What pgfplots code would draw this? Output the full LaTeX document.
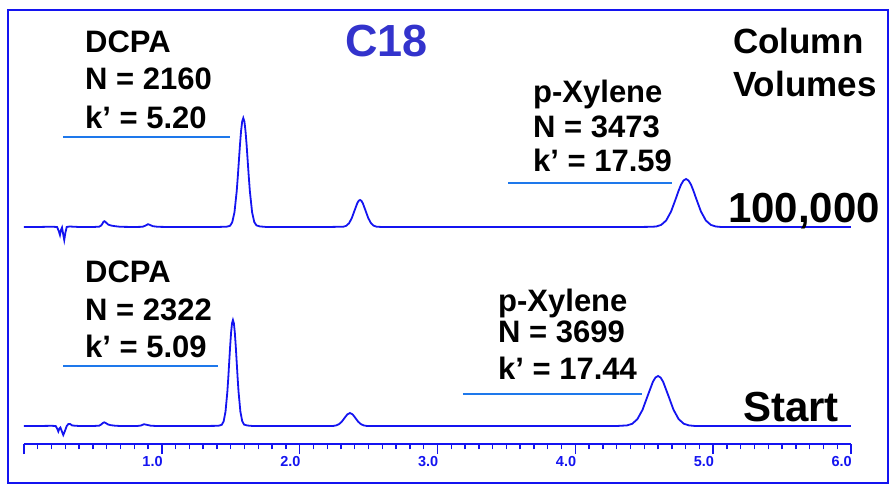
\documentclass[border=0pt]{standalone}
\usepackage{pgfplots}
\pgfplotsset{compat=1.18}
\usepackage{fontspec}
\setmainfont{Liberation Sans}
\definecolor{tblue}{RGB}{20,20,240}
\definecolor{lblue}{RGB}{30,120,235}
\definecolor{cblue}{RGB}{51,51,204}
\begin{document}
\begin{tikzpicture}
\begin{axis}[
  scale only axis, width=827pt, height=434pt,
  xmin=0, xmax=6, ymin=0, ymax=434,
  axis x line=bottom, axis y line=none,
  axis line style={-, draw=tblue, line width=1.7pt},
  xtick={0,1,2,3,4,5,6}, xticklabels={,1.0,2.0,3.0,4.0,5.0,6.0},
  ytick=\empty,
  minor x tick num=9,
  tick align=outside,
  major tick length=10pt, minor tick length=5.5pt,
  every tick/.style={tblue, line width=1.4pt},
  xticklabel style={font=\fontsize{14.5}{15}\selectfont\bfseries, text=tblue, anchor=north east, inner sep=0pt, xshift=1pt, yshift=-2pt},
  clip=false,
]
% invisible bounding box and frame
\path (axis cs:-0.1741,-41) rectangle (axis cs:6.3193,444);
\draw[tblue, line width=1.5pt] (axis cs:-0.116,-39) rectangle (axis cs:6.269,434);

% upper chromatogram (100,000 column volumes)
\addplot[tblue, line width=1.8pt] coordinates {
(0,217) (0.10,217) (0.20,217.3) (0.24,217) (0.252,213) (0.261,209) (0.268,214) (0.276,216.5) (0.284,210) (0.292,204) (0.300,211) (0.31,217) (0.33,217.5) (0.40,217) (0.50,217)
(0.545,217.3) (0.56,218.5) (0.57,220.5) (0.577,222.3) (0.585,222.8) (0.595,221.5) (0.61,219.5) (0.63,218.5) (0.66,217.8) (0.70,217.2) (0.80,217)
(0.86,217.2) (0.88,218.3) (0.90,219.8) (0.915,219) (0.935,217.8) (0.97,217.2) (1.05,217) (1.20,217) (1.40,217) (1.47,217.3)
(1.495,218.2) (1.511,221.8) (1.527,231.7) (1.543,252.4) (1.551,266.9) (1.559,283.1) (1.567,299.3) (1.575,313.2) (1.583,322.6) (1.591,326)
(1.599,322.6) (1.607,313.2) (1.615,299.3) (1.623,283.1) (1.631,266.9) (1.639,252.4) (1.655,231.7) (1.671,221.8) (1.687,218.6) (1.71,217.6) (1.76,217)
(2.0,217) (2.2,217) (2.318,217.3) (2.338,218.2) (2.358,220.7) (2.378,225.8) (2.398,233.4) (2.418,240.8) (2.428,243.2) (2.438,244) (2.448,243.2) (2.458,240.8)
(2.478,233.4) (2.498,225.8) (2.518,220.7) (2.538,218.2) (2.558,217.3) (2.60,217) (3.0,217) (3.5,217) (4.0,217) (4.45,217) (4.55,217.2)
(4.587,217.5) (4.623,219.1) (4.659,223.5) (4.695,232.6) (4.731,246.1) (4.749,253.2) (4.767,259.4) (4.785,263.5) (4.803,265) (4.821,263.5) (4.839,259.4) (4.857,253.2)
(4.875,246.1) (4.911,232.6) (4.947,223.5) (4.983,219.1) (5.019,217.5) (5.06,217) (5.5,217) (6.0,217)
};

% lower chromatogram (start)
\addplot[tblue, line width=1.8pt] coordinates {
(0,18) (0.10,18) (0.20,18.2) (0.23,18) (0.242,15) (0.249,12.5) (0.257,15.5) (0.264,16.5) (0.274,13) (0.285,9) (0.297,13) (0.31,18) (0.322,20) (0.334,20) (0.35,18.5) (0.40,18) (0.50,18)
(0.545,18.3) (0.56,19.5) (0.572,21) (0.582,21.7) (0.595,20.8) (0.61,19.5) (0.63,18.8) (0.66,18.3) (0.70,18) (0.82,18)
(0.85,18.5) (0.87,19.8) (0.89,19.2) (0.92,18.3) (0.96,18) (1.10,18) (1.30,18) (1.41,18.2)
(1.435,19.2) (1.4485,22.7) (1.462,32.3) (1.4755,52.4) (1.4823,66.5) (1.489,82.3) (1.4958,98.0) (1.5025,111.5) (1.5093,120.7) (1.516,124)
(1.5228,120.7) (1.5295,111.5) (1.5363,98.0) (1.543,82.3) (1.5498,66.5) (1.5565,52.4) (1.570,32.3) (1.5835,22.7) (1.597,19.4) (1.62,18.5) (1.66,18)
(2.0,18) (2.245,18.1) (2.265,18.6) (2.285,19.8) (2.305,22.2) (2.325,25.9) (2.345,29.5) (2.365,31) (2.385,29.5) (2.405,25.9) (2.425,22.2) (2.445,19.8) (2.465,18.6) (2.485,18.1) (2.52,18)
(3.0,18) (3.5,18) (4.0,18) (4.30,18)
(4.375,18.6) (4.4125,20.2) (4.450,24.8) (4.4875,34.2) (4.525,48.3) (4.544,55.3) (4.5625,62.1) (4.581,66.4) (4.600,68) (4.619,66.4) (4.6375,62.1) (4.656,55.3)
(4.675,48.3) (4.7125,34.2) (4.750,24.8) (4.7875,20.2) (4.825,18.6) (4.87,18) (5.5,18) (6.0,18)
};

% annotation underlines
\draw[lblue, line width=1.8pt] (axis cs:0.283,307) -- (axis cs:1.4946,307);
\draw[lblue, line width=1.8pt] (axis cs:0.283,78) -- (axis cs:1.4075,78);
\draw[lblue, line width=1.8pt] (axis cs:3.512,261) -- (axis cs:4.701,261);
\draw[lblue, line width=1.8pt] (axis cs:3.185,50) -- (axis cs:4.484,50);

% texts
\tikzset{lab/.style={anchor=base west, inner sep=0pt, font=\fontsize{31}{31}\selectfont\bfseries}}
\node[lab] at (axis cs:0.4426,391) {DCPA};
\node[lab] at (axis cs:0.4426,354) {N = 2160};
\node[lab] at (axis cs:0.4426,315) {k’ = 5.20};
\node[lab] at (axis cs:0.4426,161) {DCPA};
\node[lab] at (axis cs:0.4426,123) {N = 2322};
\node[lab] at (axis cs:0.4426,86) {k’ = 5.09};
\node[lab] at (axis cs:3.693,341) {p-Xylene};
\node[lab] at (axis cs:3.693,306) {N = 3473};
\node[lab] at (axis cs:3.693,272) {k’ = 17.59};
\node[lab] at (axis cs:3.439,132) {p-Xylene};
\node[lab] at (axis cs:3.439,101) {N = 3699};
\node[lab] at (axis cs:3.439,64) {k’ = 17.44};
\node[anchor=base west, inner sep=0pt, text=cblue, font=\fontsize{45}{45}\selectfont\bfseries] at (axis cs:2.329,387) {C18};
\node[anchor=base west, inner sep=0pt, font=\fontsize{35}{35}\selectfont\bfseries] at (axis cs:5.144,390) {Column};
\node[anchor=base west, inner sep=0pt, font=\fontsize{35}{35}\selectfont\bfseries] at (axis cs:5.144,347) {Volumes};
\node[anchor=base west, inner sep=0pt, font=\fontsize{42}{42}\selectfont\bfseries] at (axis cs:5.108,221) {100,000};
\node[anchor=base west, inner sep=0pt, font=\fontsize{42}{42}\selectfont\bfseries] at (axis cs:5.217,23) {Start};
\end{axis}
\end{tikzpicture}
\end{document}
